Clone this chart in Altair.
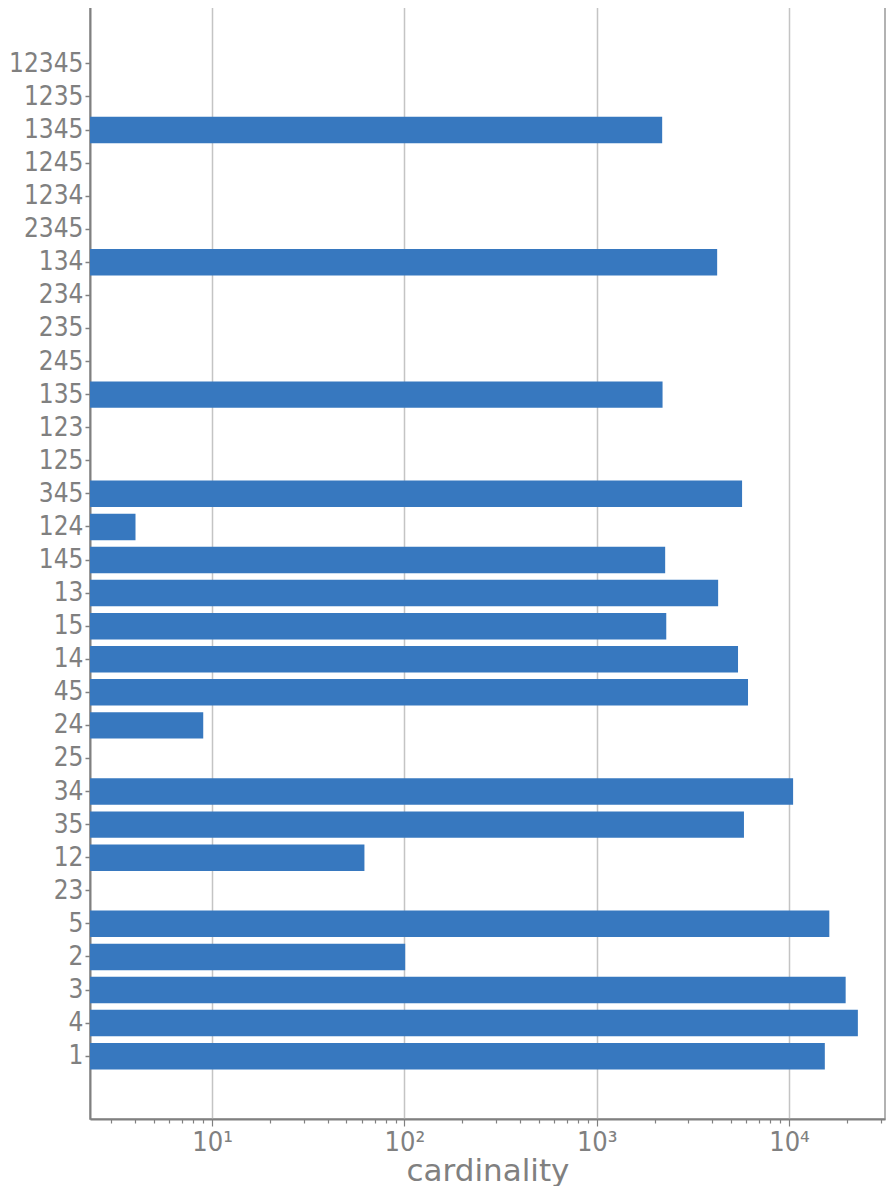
import altair as alt
import pandas as pd

categories = ["12345", "1235", "1345", "1245", "1234", "2345", "134", "234", "235", "245",
              "135", "123", "125", "345", "124", "145", "13", "15", "14", "45",
              "24", "25", "34", "35", "12", "23", "5", "2", "3", "4", "1"]
cardinality = [None, None, 2190, None, None, None, 4230, None, None, None,
               2200, None, None, 5700, 4, 2270, 4280, 2300, 5430, 6120,
               9, None, 10500, 5830, 62, None, 16200, 101, 19700, 22800, 15350]

df = pd.DataFrame({"set": categories, "cardinality": cardinality}).dropna()

# empty slots above and below the category list (spacing like the reference)
y_domain = ["_top"] + categories + ["_bottom"]

x_min, x_max = 2.32, 31550
tick_vals = [m * 10 ** e for e in range(0, 5) for m in range(1, 10) if x_min <= m * 10 ** e <= x_max]
is_major = "datum.value == 10 || datum.value == 100 || datum.value == 1000 || datum.value == 10000"

FONT = "DejaVu Sans Condensed, DejaVu Sans"
GRAY = "#808080"

chart = alt.Chart(df).mark_bar(color="#3778bf").encode(
    x=alt.X("cardinality:Q",
            scale=alt.Scale(type="log", domain=[x_min, x_max], nice=False, clamp=True),
            axis=alt.Axis(
                values=tick_vals,
                labelExpr="datum.value==10?'10¹':datum.value==100?'10²':datum.value==1000?'10³':datum.value==10000?'10⁴':''",
                tickSize={"condition": {"test": is_major, "value": 7}, "value": 4},
                gridOpacity={"condition": {"test": is_major, "value": 1}, "value": 0},
                gridColor="#c4c4c4", gridWidth=1.5,
                tickColor=GRAY, tickWidth=1.2,
                domainColor=GRAY, domainWidth=2,
                labelFont=FONT, labelFontSize=27, labelColor=GRAY, labelPadding=3,
                title="cardinality", titleFont="DejaVu Sans", titleFontSize=31,
                titleFontWeight="normal", titleColor=GRAY, titlePadding=1,
            )),
    y=alt.Y("set:N", sort=y_domain,
            scale=alt.Scale(domain=y_domain, paddingInner=0.2, paddingOuter=0.5),
            axis=alt.Axis(
                values=categories,
                grid=False, tickSize=5, tickColor=GRAY, tickWidth=1.5,
                domainColor=GRAY, domainWidth=2,
                labelFont=FONT, labelFontSize=26, labelColor=GRAY, labelPadding=2,
                title=None,
            )),
).properties(
    width=795, height=1118,
    padding={"left": 0, "top": -7, "right": 2, "bottom": 0},
).configure_view(
    stroke="#999999", strokeWidth=1.5,
)

chart.save("out.html", embed_options={"renderer": "svg", "actions": False})
